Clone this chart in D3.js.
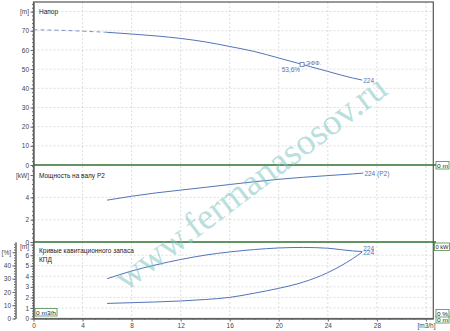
<html>
<head>
    <style>
        body { margin: 0; background: white; font-family: Arial, "Liberation Sans", sans-serif; }
        svg text { font-family: Arial, "Liberation Sans", sans-serif; }
    </style>
    <script src="https://cdn.jsdelivr.net/npm/d3@7/dist/d3.min.js"></script>
</head>
<body>
<svg id="chart"></svg>
<script>
    // Напор (head), m
    let headQ = [0, 2, 4, 6, 8, 10, 12, 14, 16, 18, 20, 22, 24, 26, 26.8]
    let headH = [70.5, 70.3, 69.8, 69.2, 68.3, 67.3, 66, 64.2, 61.8, 59.2, 55.8, 52.3, 48.8, 45.4, 44.3]
    let dashedUntil = 6

    // Мощность на валу P2, kW
    let powerQ = [6, 8, 10, 12, 14, 16, 18, 20, 22, 24, 26, 26.9]
    let powerP = [3.75, 4.1, 4.4, 4.65, 4.9, 5.15, 5.4, 5.62, 5.8, 5.95, 6.1, 6.18]

    // КПД, %
    let effQ = [6, 8, 10, 12, 14, 16, 18, 20, 22, 24, 25, 26, 26.8]
    let effE = [30, 35.8, 40.5, 44.5, 47.8, 50.2, 52, 53.2, 53.6, 53, 52, 51, 50.5]

    // NPSH, m
    let npshQ = [6, 8, 10, 12, 14, 16, 18, 20, 22, 24, 25, 26, 26.8]
    let npshM = [1.43, 1.5, 1.57, 1.66, 1.8, 2.0, 2.4, 2.86, 3.45, 4.35, 4.95, 5.65, 6.3]

    let bestQ = 21.9
    let bestLabel = "53,6%"

    let xTicks = [0, 4, 8, 12, 16, 20, 24, 28, 32]
    let headTicks = [0, 10, 20, 30, 40, 50, 60, 70, 80]
    let powerTicks = [0, 2, 4, 6]
    let npshTicks = [0, 1, 2, 3, 4, 5, 6, 7]
    let effTicks = [0, 10, 20, 30, 40, 50]

    let blue = "#5274b8"
    let green = "#2f6e2f"
    let axisGray = "#666"

    let svg = d3.select("#chart").attr("width", 450).attr("height", 331)

    let x = d3.scaleLinear().domain([0, 32.6]).range([33.5, 433.3])
    let yHead = d3.scaleLinear().domain([0, 85]).range([165, 2])
    let yPower = d3.scaleLinear().domain([0, 6.9]).range([242, 165])
    let yNpsh = d3.scaleLinear().domain([0, 7.25]).range([318.5, 242])
    let yEff = d3.scaleLinear().domain([0, 57.7]).range([318.5, 242])

    function styleAxis(g) {
        g.selectAll("path").attr("stroke", axisGray)
        g.selectAll("line").attr("stroke", axisGray)
        g.selectAll("text").attr("fill", "#444").style("font-size", "6.5px")
    }

    // grid
    let grid = svg.append("g")
    grid.selectAll(".vgrid").data(xTicks.slice(1)).enter().append("line")
        .attr("x1", d => x(d)).attr("x2", d => x(d))
        .attr("y1", 2).attr("y2", 318.5)
    function hgrid(values, scale) {
        grid.selectAll(null).data(values).enter().append("line")
            .attr("x1", x.range()[0]).attr("x2", x.range()[1])
            .attr("y1", d => scale(d)).attr("y2", d => scale(d))
    }
    hgrid(headTicks.slice(1), yHead)
    hgrid(powerTicks.slice(1, 3), yPower)
    hgrid(npshTicks.slice(1, 7), yNpsh)
    grid.selectAll("line").attr("stroke", "#c8c8c8").attr("stroke-width", 0.6).attr("stroke-dasharray", "2,2")

    // frame
    svg.append("rect").attr("x", 33.5).attr("y", 2).attr("width", 433.3 - 33.5).attr("height", 316.5)
        .attr("fill", "none").attr("stroke", "#555").attr("stroke-width", 1.2)

    // left axes
    function leftAxis(scale, ticks, unit, minorStep, xPos, unitShift) {
        let lo = scale.domain()[0], hi = scale.domain()[1]
        let minor = d3.range(lo, hi, minorStep)
        svg.append("g").attr("transform", `translate(${xPos},0)`)
            .call(d3.axisLeft(scale).tickValues(minor).tickSize(1.5).tickFormat("").tickSizeOuter(0))
            .call(styleAxis)
        let g = svg.append("g").attr("transform", `translate(${xPos},0)`)
            .call(d3.axisLeft(scale).tickValues(ticks).tickSize(3).tickPadding(1.5)
                .tickFormat(d => d === ticks[ticks.length - 1] ? unit : d).tickSizeOuter(0))
            .call(styleAxis)
        if (unitShift) {
            g.selectAll("text").filter(d => d === ticks[ticks.length - 1])
                .attr("transform", `translate(0,${unitShift})`)
        }
    }
    leftAxis(yHead, headTicks, "[m]", 2, 33.5)
    leftAxis(yPower, powerTicks, "[kW]", 0.4, 33.5)
    leftAxis(yNpsh, npshTicks, "[m]", 0.25, 33.5, 2)
    leftAxis(yEff, effTicks, "[%]", 2, 15.5)

    // x axis
    svg.append("g").attr("transform", "translate(0,318.5)")
        .call(d3.axisBottom(x).tickValues(d3.range(0, 33, 1)).tickSize(1.5).tickFormat("").tickSizeOuter(0))
        .call(styleAxis)
    svg.append("g").attr("transform", "translate(0,318.5)")
        .call(d3.axisBottom(x).tickValues(xTicks).tickSize(3).tickPadding(1.5)
            .tickFormat(d => d === 32 ? "[m3/h]" : d).tickSizeOuter(0))
        .call(styleAxis)

    // panel separators
    svg.selectAll(".sep").data([yHead(0), yPower(0)]).enter().append("line")
        .attr("x1", 33.5).attr("x2", 436).attr("y1", d => d).attr("y2", d => d)
        .attr("stroke", green).attr("stroke-width", 1.4)

    // panel titles
    let titles = [
        { text: "Напор", y: 14 },
        { text: "Мощность на валу P2", y: 178 },
        { text: "Кривые кавитационного запаса", y: 253 },
        { text: "КПД", y: 262 }
    ]
    svg.selectAll(".title").data(titles).enter().append("text")
        .attr("x", 39).attr("y", d => d.y).text(d => d.text)
        .attr("fill", "#222").style("font-size", "6.5px")

    // curves
    function curve(qs, vs, scale, dash) {
        let pts = qs.map((q, i) => [q, vs[i]])
        svg.append("path").datum(pts)
            .attr("d", d3.line().x(d => x(d[0])).y(d => scale(d[1])).curve(d3.curveMonotoneX))
            .attr("fill", "none").attr("stroke", blue).attr("stroke-width", 1)
            .attr("stroke-dasharray", dash || null)
            .attr("stroke-opacity", dash ? 0.75 : 1)
    }
    curve(headQ.filter(q => q <= dashedUntil), headH.filter((h, i) => headQ[i] <= dashedUntil), yHead, "4,3")
    curve(headQ.filter(q => q >= dashedUntil), headH.filter((h, i) => headQ[i] >= dashedUntil), yHead)
    curve(powerQ, powerP, yPower)
    curve(effQ, effE, yEff)
    curve(npshQ, npshM, yNpsh)

    // duty point marker
    let headAt = d3.scaleLinear().domain(headQ).range(headH)
    let bx = x(bestQ), by = yHead(headAt(bestQ))
    svg.append("rect").attr("x", bx - 2).attr("y", by - 2).attr("width", 4).attr("height", 4)
        .attr("fill", "white").attr("stroke", blue).attr("stroke-width", 0.8)
    svg.append("text").attr("x", bx + 4).attr("y", by + 0.5).text("ЭФФ.")
        .attr("fill", blue).style("font-size", "6px")
    svg.append("text").attr("x", bx - 2).attr("y", by + 8).attr("text-anchor", "end").text(bestLabel)
        .attr("fill", blue).style("font-size", "6.5px")

    // end labels
    let ends = [
        { q: headQ[headQ.length - 1], y: yHead(headH[headH.length - 1]) + 2.5, t: "224" },
        { q: powerQ[powerQ.length - 1], y: yPower(powerP[powerP.length - 1]) + 2.5, t: "224 (P2)" },
        { q: effQ[effQ.length - 1], y: yEff(effE[effE.length - 1]) - 0.5, t: "224" },
        { q: npshQ[npshQ.length - 1], y: yNpsh(npshM[npshM.length - 1]) + 2.5, t: "224" }
    ]
    svg.selectAll(".endlab").data(ends).enter().append("text")
        .attr("x", d => x(d.q) + 1).attr("y", d => d.y).text(d => d.t)
        .attr("fill", blue).style("font-size", "6.5px")

    // zero boxes
    let boxes = [
        { x: 436, y: 161.5, w: 13, t: "0 m" },
        { x: 434.5, y: 243, w: 15, t: "0 kW" },
        { x: 436, y: 315.5, w: 13, t: "0 m" },
        { x: 436, y: 309.5, w: 13, t: "0 %" },
        { x: 35, y: 308.5, w: 22, t: "0 m3/h" }
    ]
    let bg = svg.selectAll(".box").data(boxes).enter().append("g")
    bg.append("rect").attr("x", d => d.x).attr("y", d => d.y).attr("width", d => d.w).attr("height", 7.5)
        .attr("fill", "white").attr("stroke", "#4c8c4c").attr("stroke-width", 0.8)
    bg.append("text").attr("x", d => d.x + d.w / 2).attr("y", d => d.y + 6).text(d => d.t)
        .attr("text-anchor", "middle").attr("textLength", d => d.w - 2).attr("lengthAdjust", "spacingAndGlyphs")
        .attr("fill", "#222").style("font-size", "6px")

    // watermark
    svg.append("text").attr("transform", "translate(250,182) rotate(-37)")
        .attr("text-anchor", "middle").attr("dy", "0.35em")
        .style("font-family", "'Liberation Serif', 'DejaVu Serif', serif").style("font-size", "37px")
        .attr("fill", "#7ec3bf").attr("fill-opacity", 0.55)
        .text("www.fermanasosov.ru")
</script>
</body>
</html>
